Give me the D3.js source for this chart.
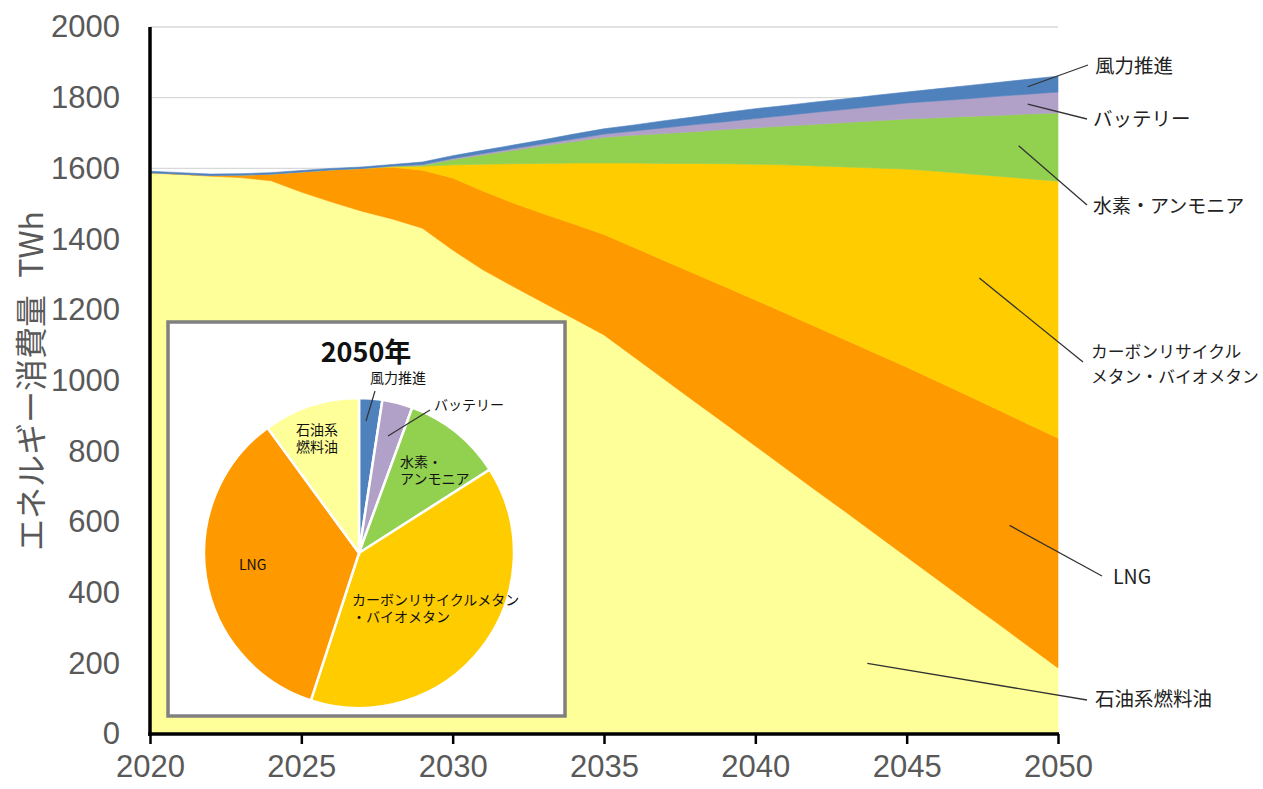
<!DOCTYPE html>
<html>
<head>
<meta charset="utf-8">
<script src="https://cdn.jsdelivr.net/npm/d3@7"></script>
<style>
  html, body { margin: 0; padding: 0; background: #fff; }
  svg { display: block; }
  text { font-family: "Liberation Sans", Arial, "Noto Sans CJK JP", sans-serif; }
  .jp { font-family: "Noto Sans CJK JP", "Liberation Sans", sans-serif; }
</style>
</head>
<body>
<svg id="chart" width="1263" height="789"></svg>
<script>
// Annual energy consumption by fuel, TWh
const years = [2020, 2021, 2022, 2023, 2024, 2025, 2026, 2027, 2028, 2029,
               2030, 2031, 2032, 2033, 2034, 2035, 2036, 2037, 2038, 2039,
               2040, 2041, 2042, 2043, 2044, 2045, 2046, 2047, 2048, 2049, 2050];

const oilFuel = [1587, 1583, 1578, 1574, 1565, 1533, 1505, 1479, 1457, 1431,
                 1369, 1313, 1266, 1220, 1175, 1129, 1066, 1003, 940, 878,
                 815, 752, 689, 627, 564, 501, 438, 375, 313, 250, 187];
const lng = [1, 1, 2, 7, 19, 57, 91, 121, 146, 164,
             204, 223, 236, 252, 268, 284, 310, 336, 362, 387,
             413, 438, 463, 487, 512, 537, 560, 583, 605, 627, 650];
const recycledMethane = [0, 0, 0, 0, 0, 0, 0, 0, 2, 11,
                         37, 76, 111, 142, 172, 202, 239, 275, 312, 348,
                         384, 420, 455, 490, 525, 560, 594, 627, 660, 694, 727];
const hydrogenAmmonia = [0, 0, 0, 0, 0, 0, 0, 0, 1, 3,
                         15, 26, 38, 50, 61, 73, 79, 85, 90, 97,
                         103, 110, 118, 126, 134, 142, 151, 162, 172, 183, 193];
const battery = [0, 0, 0, 0, 0, 0, 0, 0, 1, 2,
                 3, 4, 5, 6, 7, 9, 12, 16, 20, 22,
                 26, 30, 34, 37, 41, 45, 48, 50, 54, 56, 59];
const windAssist = [4, 4, 4, 4, 4, 4, 4, 4, 4, 7,
                    8, 9, 10, 11, 14, 15, 17, 20, 22, 26,
                    28, 28, 29, 30, 31, 31, 34, 37, 39, 42, 45];

const yTicks = [0, 200, 400, 600, 800, 1000, 1200, 1400, 1600, 1800, 2000];
const xTicks = [2020, 2025, 2030, 2035, 2040, 2045, 2050];

// Series in stacking order (bottom to top)
const seriesKeys = ["oil", "lng", "methane", "h2", "battery", "wind"];
const seriesValues = {
  oil: oilFuel, lng: lng, methane: recycledMethane,
  h2: hydrogenAmmonia, battery: battery, wind: windAssist
};
const colors = {
  oil: "#FFFF99", lng: "#FF9900", methane: "#FFCC00",
  h2: "#92D050", battery: "#B1A0C7", wind: "#4F81BD"
};
const sideLabels = {
  wind: ["風力推進"], battery: ["バッテリー"], h2: ["水素・アンモニア"],
  methane: ["カーボンリサイクル", "メタン・バイオメタン"], lng: ["LNG"], oil: ["石油系燃料油"]
};
// Leader-line anchors inside each band, in data space [year, TWh]
const sideAnchors = {
  wind: [2049, 1831], battery: [2049, 1782], h2: [2048.7, 1664],
  methane: [2047.4, 1290], lng: [2048.4, 590], oil: [2043.7, 200]
};

const rows = years.map((yr, i) => {
  const r = { year: yr };
  seriesKeys.forEach(k => r[k] = seriesValues[k][i]);
  return r;
});

const svg = d3.select("#chart");
const x = d3.scaleLinear().domain([2020, 2050]).range([150, 1058]);
const y = d3.scaleLinear().domain([0, 2000]).range([734, 27]);

// Gridlines
svg.append("g")
  .selectAll("line").data(yTicks.filter(t => t > 0)).join("line")
  .attr("x1", x(2020)).attr("x2", x(2050))
  .attr("y1", d => y(d)).attr("y2", d => y(d))
  .attr("stroke", "#d9d9d9").attr("stroke-width", 1.3);

// Stacked areas
const stack = d3.stack().keys(seriesKeys);
const layers = stack(rows);
const area = d3.area()
  .x(d => x(d.data.year))
  .y0(d => y(d[0]))
  .y1(d => y(d[1]));

svg.append("g")
  .selectAll("path").data(layers).join("path")
  .attr("d", area)
  .attr("fill", d => colors[d.key])
  .attr("stroke", d => colors[d.key])
  .attr("stroke-width", 0.6);

// Axes
const yAxis = d3.axisLeft(y).tickValues(yTicks).tickFormat(d3.format("d"))
  .tickSize(0).tickPadding(30);
const gy = svg.append("g").attr("transform", `translate(${x(2020)},0)`).call(yAxis);
gy.select(".domain").attr("stroke", "#000").attr("stroke-width", 3.5)
  .attr("d", `M0,${y(2000)}V${y(0) + 2}`);
gy.selectAll("text").attr("font-size", 31).attr("fill", "#595959")
  .attr("font-family", "'Liberation Sans', Arial, sans-serif");

const xAxis = d3.axisBottom(x).tickValues(xTicks).tickFormat(d3.format("d"))
  .tickSize(10).tickSizeOuter(0).tickPadding(11);
const gx = svg.append("g").attr("transform", `translate(0,${y(0)})`).call(xAxis);
gx.select(".domain").attr("stroke", "#000").attr("stroke-width", 3.5)
  .attr("d", `M${x(2020) - 1.7},0H${x(2050) + 1}`);
gx.selectAll(".tick line").attr("stroke", "#000").attr("stroke-width", 2.5);
gx.selectAll("text").attr("font-size", 31).attr("fill", "#595959")
  .attr("font-family", "'Liberation Sans', Arial, sans-serif");

// Y axis title
const yTitle = svg.append("text")
  .attr("class", "jp")
  .attr("transform", "translate(43,381) rotate(-90)")
  .attr("text-anchor", "middle")
  .attr("font-size", 32)
  .attr("fill", "#595959");
yTitle.append("tspan").text("エネルギー消費量");
yTitle.append("tspan").attr("dx", 10).text(" TWh");

// Side labels with leader lines: [text x, text y, line end x, line end y, font size]
const labelPos = {
  wind: [1095, 73, 1088, 65, 19.5], battery: [1093, 126, 1087, 119, 19.5],
  h2: [1093, 213, 1087, 205, 19], methane: [1091, 358, 1083, 362, 16.8],
  lng: [1113, 584, 1102, 576, 19.5], oil: [1095, 706, 1087, 700, 19.5]
};
const side = svg.append("g");
seriesKeys.forEach(k => {
  const [ax, ay] = sideAnchors[k];
  const [tx, ty, lx, ly, fs] = labelPos[k];
  side.append("line")
    .attr("x1", x(ax)).attr("y1", y(ay)).attr("x2", lx).attr("y2", ly)
    .attr("stroke", "#333").attr("stroke-width", 1.3);
  const t = side.append("text").attr("class", "jp")
    .attr("x", tx).attr("y", ty).attr("font-size", fs).attr("fill", "#222");
  sideLabels[k].forEach((line, i) => {
    t.append("tspan").attr("x", tx).attr("dy", i === 0 ? 0 : 25).text(line);
  });
});

// Inset: 2050 composition pie
const inset = svg.append("g");
inset.append("rect")
  .attr("x", 168).attr("y", 322).attr("width", 397).attr("height", 394)
  .attr("fill", "#fff").attr("stroke", "#808080").attr("stroke-width", 3.5);
inset.append("text").attr("class", "jp")
  .attr("x", 366).attr("y", 362).attr("text-anchor", "middle")
  .attr("font-size", 27).attr("font-weight", "bold").attr("fill", "#111")
  .text("2050年");

const pieOrder = ["wind", "battery", "h2", "methane", "lng", "oil"];
const last = years.length - 1;
const pieData = pieOrder.map(k => ({ key: k, value: seriesValues[k][last] }));
const pie = d3.pie().sort(null).value(d => d.value);
const arc = d3.arc().innerRadius(0).outerRadius(155);
const cx = 359, cy = 553;
const pg = inset.append("g").attr("transform", `translate(${cx},${cy})`);
pg.selectAll("path").data(pie(pieData)).join("path")
  .attr("d", arc)
  .attr("fill", d => colors[d.data.key])
  .attr("stroke", "#fff").attr("stroke-width", 2.5);

// Pie labels (offsets from pie centre)
const pieLabels = [
  { lines: ["風力推進"], x: 11, y: -170 },
  { lines: ["バッテリー"], x: 75, y: -143 },
  { lines: ["水素・", "アンモニア"], x: 41, y: -86 },
  { lines: ["カーボンリサイクルメタン", "・バイオメタン"], x: -7, y: 52 },
  { lines: ["LNG"], x: -120, y: 17 },
  { lines: ["石油系", "燃料油"], x: -63, y: -118 }
];
pieLabels.forEach(l => {
  const t = pg.append("text").attr("class", "jp")
    .attr("x", l.x).attr("y", l.y).attr("font-size", 14).attr("fill", "#111");
  l.lines.forEach((s, i) => t.append("tspan").attr("x", l.x).attr("dy", i === 0 ? 0 : 17).text(s));
});
const pieLeaders = [[16, -162, 7, -132], [71, -143, 29, -117]];
pieLeaders.forEach(([x1, y1, x2, y2]) => {
  pg.append("line").attr("x1", x1).attr("y1", y1).attr("x2", x2).attr("y2", y2)
    .attr("stroke", "#333").attr("stroke-width", 1.2);
});
</script>
</body>
</html>
